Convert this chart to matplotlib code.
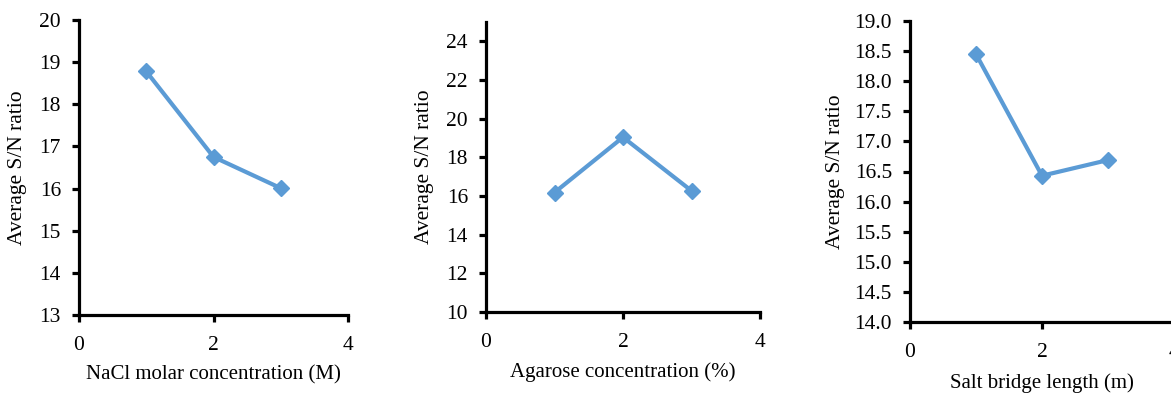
import matplotlib
matplotlib.use("Agg")
import matplotlib.pyplot as plt

plt.rcParams['font.family'] = ['Liberation Serif', 'DejaVu Serif']

# data
x_levels = [1, 2, 3]
nacl_sn = [18.78, 16.75, 16.01]
agarose_sn = [16.18, 19.04, 16.27]
bridge_sn = [18.45, 16.43, 16.69]

xlabels = ['NaCl molar concentration (M)', 'Agarose concentration (%)', 'Salt bridge length (m)']
ylabel = 'Average S/N ratio'

W, H = 1171, 394
c = '#5B9BD5'

fig = plt.figure(figsize=(W / 100, H / 100), dpi=100)

# pixel boxes (left, right, top, bottom) of each plot area
boxes = [(79, 348, 20, 315), (486, 760, 22, 312), (910, 1174, 21, 322)]
series = [nacl_sn, agarose_sn, bridge_sn]
ylims = [(13, 20), (10, 25), (14, 19)]
yticks = [list(range(13, 21)), list(range(10, 25, 2)), [14 + 0.5 * i for i in range(11)]]
yfmt = ['{:.0f}', '{:.0f}', '{:.1f}']
ylab_x = [-0.230, -0.223, -0.284]
xlab_y = [-0.203, -0.207, -0.203]

for i in range(3):
    l, r, t, b = boxes[i]
    ax = fig.add_axes([l / W, (H - b) / H, (r - l) / W, (b - t) / H])
    ax.plot(x_levels, series[i], color=c, lw=3, marker='D', markersize=8.5, clip_on=False)
    ax.set_xlim(0, 4)
    ax.set_ylim(*ylims[i])
    ax.set_xticks([0, 2, 4])
    ax.set_yticks(yticks[i])
    ax.set_yticklabels([yfmt[i].format(v) for v in yticks[i]])
    for s in ['top', 'right']:
        ax.spines[s].set_visible(False)
    for s in ['left', 'bottom']:
        ax.spines[s].set_linewidth(2.3)
    ax.tick_params(axis='both', direction='out', length=5, width=2.3, labelsize=15.5, colors='black')
    ax.tick_params(axis='y', pad=8)
    ax.tick_params(axis='x', pad=10)
    ax.set_xlabel(xlabels[i], fontsize=15)
    ax.set_ylabel(ylabel, fontsize=15.5)
    ax.xaxis.set_label_coords(0.5, xlab_y[i])
    ax.xaxis.label.set_va('center')
    ax.yaxis.set_label_coords(ylab_x[i], 0.5)
    ax.yaxis.label.set_va('center')

fig.savefig('out.png', dpi=100)
